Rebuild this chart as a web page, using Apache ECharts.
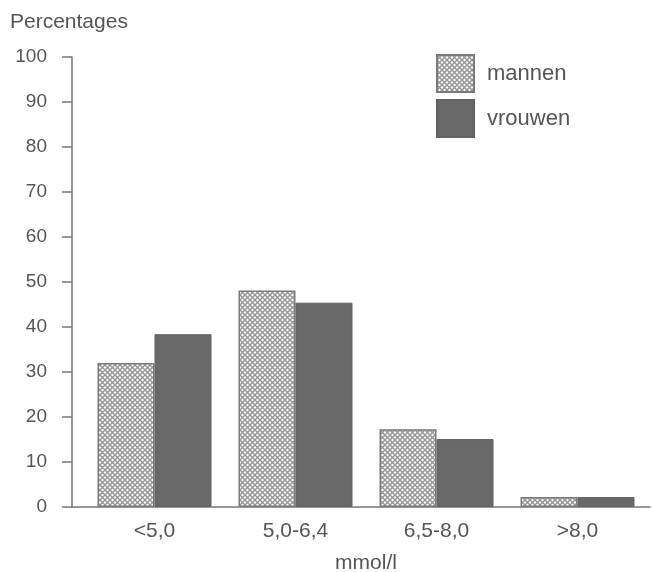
<!DOCTYPE html>
<html><head><meta charset="utf-8">
<script src="https://cdn.jsdelivr.net/npm/echarts@6/dist/echarts.min.js"></script>
<style>html,body{margin:0;padding:0;background:#fff}#c{width:652px;height:572px}</style>
</head><body><div id="c"></div>
<script>
const categories = ['<5,0', '5,0-6,4', '6,5-8,0', '>8,0'];
const mannen = [32, 48.1, 17.3, 2.2];
const vrouwen = [38.4, 45.4, 15.1, 2.2];
const yTicks = [0, 10, 20, 30, 40, 50, 60, 70, 80, 90, 100];

function hatch() {
  const s = 5;
  const cv = document.createElement('canvas');
  cv.width = s; cv.height = s;
  const ctx = cv.getContext('2d');
  ctx.fillStyle = '#ffffff';
  ctx.fillRect(0, 0, s, s);
  ctx.strokeStyle = '#959595';
  ctx.lineWidth = 1.4;
  ctx.beginPath();
  ctx.moveTo(0, 0); ctx.lineTo(s, s);
  ctx.moveTo(s, 0); ctx.lineTo(0, s);
  ctx.stroke();
  return cv;
}

const font = 'Liberation Sans, Arial, sans-serif';
const txt = '#555';
const lineCol = '#777';
const chart = echarts.init(document.getElementById('c'));
chart.setOption({
  animation: false,
  backgroundColor: '#fff',
  title: { text: 'Percentages', left: 10, top: 12, padding: 0, textStyle: { fontFamily: font, fontSize: 21, fontWeight: 'normal', color: txt } },
  legend: {
    left: 436, top: 54, padding: 0, orient: 'vertical', itemWidth: 37, itemHeight: 37, itemGap: 6,
    icon: 'rect',
    textStyle: { fontFamily: font, fontSize: 22, color: txt, padding: [5, 0, 0, 8] },
    data: ['mannen', 'vrouwen']
  },
  grid: [
    { left: 72, right: 2, top: 57, bottom: 65, containLabel: false, outerBoundsMode: 'none' },
    { left: 84, right: 4, top: 57, bottom: 65, containLabel: false, outerBoundsMode: 'none' }
  ],
  xAxis: [
    { gridIndex: 0, type: 'value', min: 0, max: 1, axisLine: { show: true, lineStyle: { color: lineCol, width: 1.5 } }, axisTick: { show: false }, axisLabel: { show: false }, splitLine: { show: false } },
    { gridIndex: 1, type: 'category', data: categories,
      axisLine: { show: false }, axisTick: { show: false },
      axisLabel: { fontFamily: font, fontSize: 21, color: txt, margin: 14 },
      name: 'mmol/l', nameLocation: 'middle', nameGap: 46,
      nameTextStyle: { fontFamily: font, fontSize: 21, color: txt } }
  ],
  yAxis: [
    { gridIndex: 0, type: 'value', min: 0, max: 100, interval: 10,
      axisLine: { show: true, lineStyle: { color: lineCol, width: 1.5 } },
      axisTick: { show: true, length: 10, lineStyle: { color: lineCol, width: 1.5 } },
      axisLabel: { fontFamily: font, fontSize: 19, color: txt, margin: 25,
        formatter: v => yTicks.indexOf(v) >= 0 ? String(v) : '' },
      splitLine: { show: false } },
    { gridIndex: 1, type: 'value', min: 0, max: 100, show: false }
  ],
  series: [
    { name: 'mannen', type: 'bar', xAxisIndex: 1, yAxisIndex: 1, data: mannen, barWidth: 57, barGap: '0%',
      itemStyle: { color: { image: hatch(), repeat: 'repeat' }, borderColor: '#7a7a7a', borderWidth: 1.5 } },
    { name: 'vrouwen', type: 'bar', xAxisIndex: 1, yAxisIndex: 1, data: vrouwen, barWidth: 57, barGap: '0%',
      itemStyle: { color: '#696969', borderColor: '#626262', borderWidth: 1 } }
  ]
});
</script></body></html>
